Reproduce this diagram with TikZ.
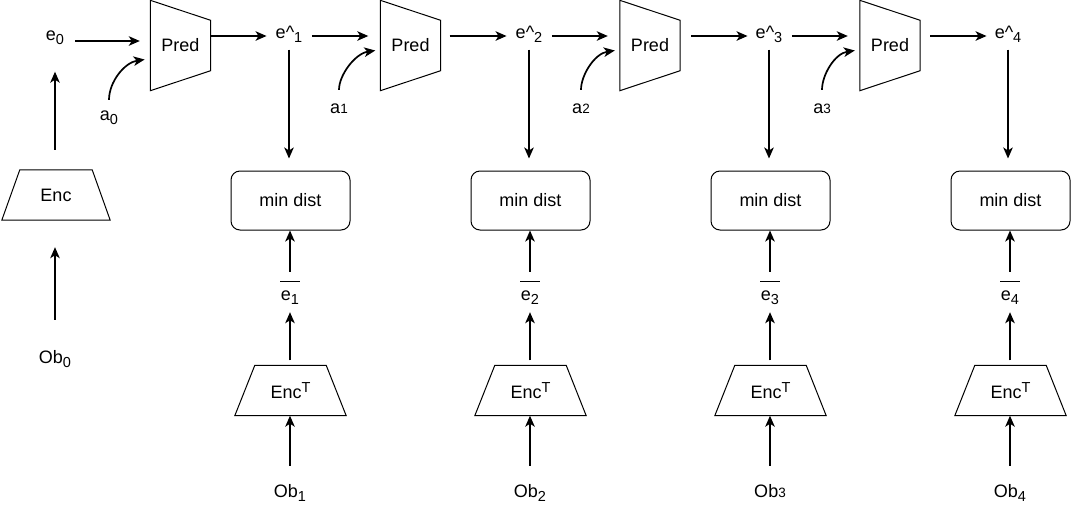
\documentclass[tikz,border=0pt]{standalone}
\usepackage{fontspec}
\setmainfont{Liberation Sans}
\usetikzlibrary{arrows.meta}
\newcommand\sdig[1]{\raisebox{-0.5pt}{\fontsize{13.5}{13.5}\selectfont #1}}
\newcommand\lowtx[1]{\raisebox{-4pt}{\fontsize{14.5}{14.5}\selectfont #1}}
\newcommand\hightx[1]{\raisebox{6.5pt}{\fontsize{14.5}{14.5}\selectfont #1}}
\begin{document}
\begin{tikzpicture}[x=1pt,y=-1pt,
  font=\fontsize{18}{21}\selectfont,
  arr/.style={line width=1.7pt,-{Stealth[length=11pt,width=9.5pt,inset=3pt]}},
  shp/.style={line width=1pt},
  lbl/.style={inner sep=0pt,text height=10pt,text depth=5pt},
  predn/.style={inner sep=0pt,minimum width=60pt,minimum height=90pt},
  encn/.style={inner sep=0pt,minimum width=#1,minimum height=50pt},
  mdbox/.style={draw,line width=1pt,rounded corners=9pt,inner sep=0pt,minimum width=119pt,minimum height=59pt},
  ovl/.style={line width=1.3pt}]
\useasboundingbox (0,0) rectangle (1071,507);

% ---- Pred blocks
\foreach \i/\x in {1/180.5,2/410.5,3/650,4/890}{
  \node[predn] (p\i) at (\x,45.5) {Pred};
  \draw[shp] (p\i.north west) -- ([yshift=-20pt]p\i.north east) -- ([yshift=20pt]p\i.south east) -- (p\i.south west) -- cycle;
}

% ---- predicted embeddings
\foreach \i/\x in {1/289,2/529,3/769,4/1008}{
  \node[lbl] (h\i) at (\x,36) {e\textasciicircum\lowtx{\i}};
}

% ---- columns
\foreach \i/\x in {1/290,2/530,3/770,4/1010}{
  \node[mdbox] (md\i) at (\x+0.5,200.5) {min dist};
  \node[lbl] (eb\i) at (\x,297.5) {e\lowtx{\i}};
  \draw[ovl] ([xshift=-10pt,yshift=8pt]eb\i.north) -- ([xshift=10pt,yshift=8pt]eb\i.north);
  \node[encn=111pt] (et\i) at (\x+0.5,390.5) {Enc\hightx{T}};
  \draw[shp] ([xshift=20pt]et\i.north west) -- ([xshift=-20pt]et\i.north east) -- (et\i.south east) -- (et\i.south west) -- cycle;
}
\node[lbl] (ob1) at (290,494.5) {Ob\lowtx{1}};
\node[lbl] (ob2) at (530,494.5) {Ob\lowtx{2}};
\node[lbl] (ob3) at (770,494.5) {Ob\sdig{3}};
\node[lbl] (ob4) at (1010,494.5) {Ob\lowtx{4}};

% ---- first column
\node[lbl] (e0) at (55,38) {e\lowtx{0}};
\node[encn=108pt] (enc) at (56,195) {Enc};
\draw[shp] ([xshift=18pt]enc.north west) -- ([xshift=-18pt]enc.north east) -- (enc.south east) -- (enc.south west) -- cycle;
\node[lbl] (ob0) at (55,360.5) {Ob\lowtx{0}};

% ---- actions
\node[lbl] (a0) at (109,117.5) {a\lowtx{0}};
\node[lbl] (a1) at (339,110.5) {a\sdig{1}};
\node[lbl] (a2) at (581,110.5) {a\sdig{2}};
\node[lbl] (a3) at (822,110.5) {a\sdig{3}};

% ---- connectors: first column
\draw[arr,shorten <=33pt,shorten >=27pt] (ob0.north) -- (ob0.north |- enc.south);
\draw[arr,shorten <=20pt,shorten >=26pt] (e0.south |- enc.north) -- (e0.south);
\draw[arr,shorten <=11pt,shorten >=10.5pt] ([yshift=-3pt]e0.east) -- ([yshift=-3pt]e0.east -| p1.west);

% ---- horizontal chain
\draw[arr,shorten >=9pt] (p1.east |- h1.west) -- (h1.west);
\draw[arr,shorten <=9.5pt,shorten >=12pt] (h1.east) -- (h1.east -| p2.west);
\draw[arr,shorten <=9pt,shorten >=9pt] (p2.east |- h2.west) -- (h2.west);
\draw[arr,shorten <=9.5pt,shorten >=12pt] (h2.east) -- (h2.east -| p3.west);
\draw[arr,shorten <=11pt,shorten >=8pt] (p3.east |- h3.west) -- (h3.west);
\draw[arr,shorten <=9.5pt,shorten >=12pt] (h3.east) -- (h3.east -| p4.west);
\draw[arr,shorten <=10pt,shorten >=8pt] (p4.east |- h4.west) -- (h4.west);

% ---- action curves
\draw[arr,shorten <=10pt] (a0.north) .. controls +(0,-28) and +(-20,3) .. ([xshift=-5.7pt,yshift=-14pt]p1.west);
\draw[arr,shorten <=13pt] (a1.north) .. controls +(0,-28) and +(-20,3) .. ([xshift=-5pt,yshift=-5pt]p2.west);
\draw[arr,shorten <=13pt] (a2.north) .. controls +(0,-28) and +(-20,3) .. ([xshift=-5pt,yshift=-5pt]p3.west);
\draw[arr,shorten <=13pt] (a3.north) .. controls +(0,-28) and +(-20,3) .. ([xshift=-5pt,yshift=-5pt]p4.west);

% ---- vertical connectors per column
\foreach \i in {1,2,3,4}{
  \draw[arr,shorten <=6pt,shorten >=12pt] (h\i.south) -- (h\i.south |- md\i.north);
  \draw[arr,shorten <=18pt] (eb\i.north) -- (eb\i.north |- md\i.south);
  \draw[arr,shorten <=5pt,shorten >=7pt] (eb\i.south |- et\i.north) -- (eb\i.south);
  \draw[arr,shorten <=21pt] (ob\i.north) -- (ob\i.north |- et\i.south);
}
\end{tikzpicture}
\end{document}
